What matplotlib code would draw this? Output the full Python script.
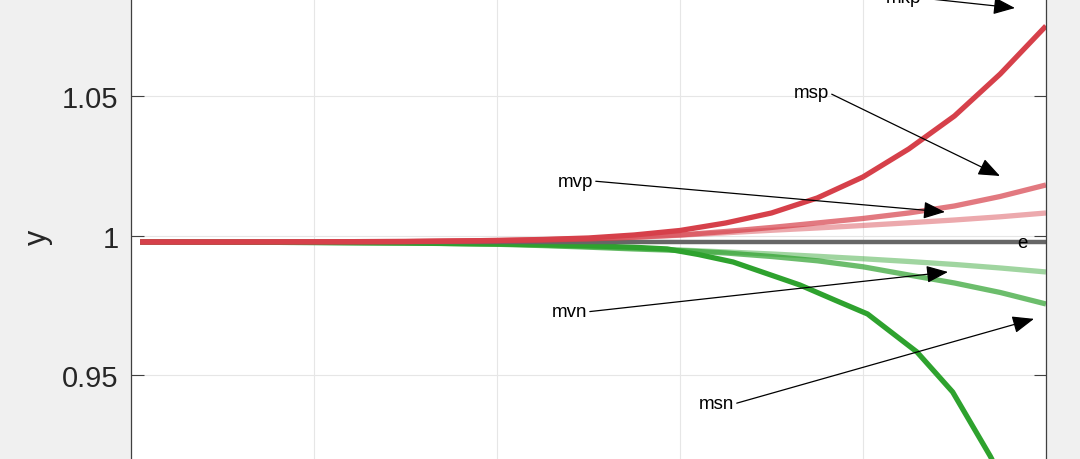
import matplotlib
matplotlib.use('Agg')
import matplotlib.pyplot as plt
import numpy as np

plt.rcParams['font.family'] = ['Liberation Sans', 'DejaVu Sans']

# sample positions shared by most curves
x = [0.01, 0.1, 0.2, 0.3, 0.4, 0.45, 0.5, 0.55, 0.6, 0.65, 0.7, 0.75, 0.8, 0.85, 0.9, 0.95, 1.0]

mkp = [0.99785, 0.99785, 0.99792, 0.99803, 0.99839, 0.99875, 0.99928, 1.00036, 1.00197,
       1.00466, 1.00824, 1.01362, 1.02115, 1.03118, 1.04301, 1.05806, 1.07527]
msp = [0.99785, 0.99785, 0.99792, 0.99803, 0.99839, 0.99864, 0.99900, 0.99957, 1.00036,
       1.00161, 1.00305, 1.00466, 1.00627, 1.00824, 1.01075, 1.01416, 1.01828]
mvp = [0.99785, 0.99785, 0.99789, 0.99796, 0.99821, 0.99846, 0.99892, 0.99950, 1.00029,
       1.00115, 1.00204, 1.00287, 1.00376, 1.00473, 1.00573, 1.00688, 1.00824]
e_line = [0.9977] * len(x)
mvn = [0.99785, 0.99778, 0.99767, 0.99749, 0.99713, 0.99670, 0.99620, 0.99563, 0.99498,
       0.99427, 0.99355, 0.99272, 0.99183, 0.99086, 0.98979, 0.98853, 0.98710]
msn = [0.99785, 0.99778, 0.99767, 0.99749, 0.99703, 0.99656, 0.99599, 0.99534, 0.99480,
       0.99391, 0.99265, 0.99111, 0.98896, 0.98602, 0.98315, 0.97975, 0.97563]

# mkn has a visible kink, so it gets its own x samples
x_mkn = [0.01, 0.1, 0.2, 0.3, 0.4, 0.45, 0.5, 0.55, 0.586, 0.62, 0.658, 0.731, 0.77, 0.805,
         0.859, 0.898, 0.939, 0.97, 1.0]
mkn = [0.99785, 0.99778, 0.99767, 0.99749, 0.99713, 0.99685, 0.99649, 0.99595, 0.99534,
       0.99337, 0.99068, 0.98244, 0.97692, 0.97204, 0.95842, 0.94409, 0.92115, 0.90180, 0.88100]

yticks = [0.9, 0.95, 1.0, 1.05, 1.1]
ytick_labels = ['0.9', '0.95', '1', '1.05', '1.1']
xticks = [0, 0.2, 0.4, 0.6, 0.8, 1.0]

# annotation text, tail (text side) and head (arrow tip)
labels = ['mkp', 'msp', 'mvp', 'mvn', 'msn']
tails = [(0.8634, 1.0853), (0.7628, 1.0513), (0.5049, 1.0197), (0.4984, 0.9728), (0.6590, 0.9398)]
heads = [(0.9661, 1.0817), (0.9497, 1.0215), (0.8896, 1.0086), (0.8929, 0.9871), (0.9869, 0.9703)]

red = '#d6404a'
green = '#2ea22e'
grey = '#666666'

fig = plt.figure(figsize=(10.8, 4.6), dpi=100)
fig.patch.set_facecolor('#f0f0f0')
ax = fig.add_axes([0.1213, -0.2, 0.8472, 1.4])
ax.set_facecolor('white')

lw = 3.8
ax.plot(x_mkn, mkn, color=green, lw=lw, solid_capstyle='butt', solid_joinstyle='round')
ax.plot(x, msn, color=green, lw=lw, alpha=0.7, solid_capstyle='butt', solid_joinstyle='round')
ax.plot(x, mvn, color=green, lw=lw, alpha=0.45, solid_capstyle='butt', solid_joinstyle='round')
ax.plot(x, e_line, color=grey, lw=3.2, solid_capstyle='butt')
ax.plot(x, mvp, color=red, lw=lw, alpha=0.45, solid_capstyle='butt', solid_joinstyle='round')
ax.plot(x, msp, color=red, lw=lw, alpha=0.7, solid_capstyle='butt', solid_joinstyle='round')
ax.plot(x, mkp, color=red, lw=lw, solid_capstyle='butt', solid_joinstyle='round')

for lab, t, h in zip(labels, tails, heads):
    ax.annotate(lab, xy=h, xytext=t, ha='right', va='center', fontsize=13.5,
                color='black',
                arrowprops=dict(arrowstyle='-|>,head_length=0.95,head_width=0.38',
                                color='black', lw=0.9, shrinkA=0, shrinkB=0,
                                relpos=(1, 0.5), mutation_scale=14))
ax.text(0.9738, 0.9975, 'e', ha='center', va='center', fontsize=13.5)

ax.set_xlim(0, 1)
ax.set_ylim(0.8871, 1.1179)
ax.set_xticks(xticks)
ax.set_yticks(yticks)
ax.set_yticklabels(ytick_labels)
ax.tick_params(axis='both', direction='in', length=9, width=0.8, color='#404040',
               labelsize=21, labelcolor='#262626', pad=9, right=True, top=True)
ax.grid(True, color='#e6e6e6', lw=0.8)
ax.set_axisbelow(True)
for s in ax.spines.values():
    s.set_color('#404040')
    s.set_linewidth(0.9)

ax.set_ylabel('y', fontsize=22, color='#262626')
ax.yaxis.set_label_coords(-0.0852, 0.489)

fig.savefig('out.png', dpi=100, facecolor=fig.get_facecolor())
